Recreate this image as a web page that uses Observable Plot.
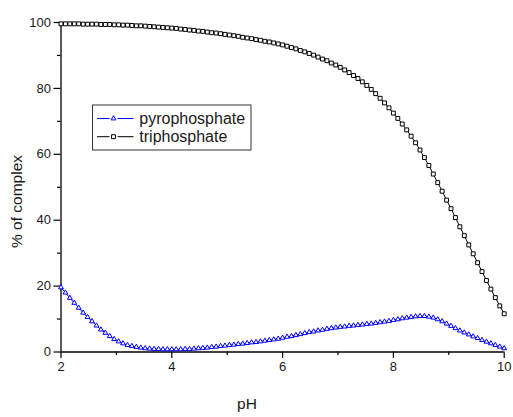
<!DOCTYPE html>
<html><head><meta charset="utf-8">
<script src="https://cdn.jsdelivr.net/npm/d3@7"></script>
<script src="https://cdn.jsdelivr.net/npm/@observablehq/plot@0.6"></script>
<style>body{margin:0;background:#fff} #chart svg{display:block}</style>
</head><body><div id="chart"></div>
<script>
const seriesNames = ["pyrophosphate", "triphosphate"];
const seriesColors = ["#0000ff", "#000000"];
const phStart = 2, phStep = 0.08;
const pyrophosphate = [
  19.6, 18.0, 16.4, 14.9, 13.4, 11.9, 10.6, 9.3, 8.0, 6.8,
  5.8, 4.8, 3.9, 3.2, 2.6, 2.1, 1.8, 1.5, 1.3, 1.1,
  1.0, 0.9, 0.9, 0.8, 0.8, 0.8, 0.8, 0.8, 0.9, 0.9,
  1.0, 1.1, 1.2, 1.3, 1.5, 1.6, 1.8, 1.9, 2.1, 2.2,
  2.4, 2.5, 2.7, 2.9, 3.0, 3.2, 3.4, 3.6, 3.8, 4.0,
  4.3, 4.6, 4.8, 5.1, 5.4, 5.7, 6.0, 6.2, 6.5, 6.7,
  7.0, 7.2, 7.4, 7.6, 7.7, 7.9, 8.0, 8.2, 8.3, 8.5,
  8.6, 8.8, 9.0, 9.2, 9.4, 9.7, 9.9, 10.2, 10.4, 10.6,
  10.8, 10.9, 10.9, 10.7, 10.4, 9.9, 9.3, 8.6, 7.9, 7.2,
  6.5, 5.9, 5.3, 4.7, 4.2, 3.6, 3.1, 2.6, 2.1, 1.6,
  1.1
];
const triphosphate = [
  99.6, 99.6, 99.6, 99.6, 99.6, 99.5, 99.5, 99.5, 99.5, 99.4,
  99.4, 99.4, 99.3, 99.3, 99.2, 99.2, 99.1, 99.0, 99.0, 98.9,
  98.8, 98.7, 98.6, 98.5, 98.4, 98.3, 98.2, 98.0, 97.9, 97.7,
  97.6, 97.4, 97.3, 97.1, 96.9, 96.8, 96.6, 96.4, 96.2, 96.0,
  95.8, 95.5, 95.3, 95.1, 94.8, 94.6, 94.3, 94.1, 93.8, 93.5,
  93.2, 92.8, 92.4, 92.0, 91.5, 91.1, 90.6, 90.1, 89.5, 88.9,
  88.4, 87.7, 87.1, 86.4, 85.6, 84.8, 83.9, 83.0, 82.0, 80.9,
  79.7, 78.4, 77.0, 75.6, 74.1, 72.5, 70.9, 69.2, 67.4, 65.5,
  63.5, 61.3, 59.0, 56.6, 54.0, 51.4, 48.8, 46.1, 43.5, 40.8,
  38.0, 35.3, 32.5, 29.8, 27.1, 24.4, 21.7, 19.1, 16.5, 14.0,
  11.6
];
const xTicks = [2, 4, 6, 8, 10];
const xMinorTicks = [3, 5, 7, 9];
const yTicks = [0, 20, 40, 60, 80, 100];
const yMinorTicks = [10, 30, 50, 70, 90];
const xLabel = "pH";
const yLabel = "% of complex";

const toRows = (vals, name) => vals.map((v, i) => ({pH: +(phStart + i * phStep).toFixed(2), value: v, series: name}));
const pyroRows = toRows(pyrophosphate, seriesNames[0]);
const triRows = toRows(triphosphate, seriesNames[1]);
const allRows = pyroRows.concat(triRows);

const font = "'Liberation Sans', Arial, Helvetica, sans-serif";
const plot = Plot.plot({
  width: 513, height: 417,
  marginLeft: 60.5, marginRight: 9.3, marginTop: 22, marginBottom: 65.5,
  style: {fontFamily: font, fontSize: "13px", color: "#1a1a1a", background: "#fff", overflow: "visible"},
  x: {domain: [2, 10]},
  y: {domain: [0, 100]},
  color: {domain: seriesNames, range: seriesColors},
  marks: [
    Plot.axisX({ticks: xTicks, tickSize: 6.5, tickPadding: 3, label: null, tickFormat: d => String(d), stroke: "#000", strokeWidth: 1.2, fontSize: 13}),
    Plot.axisX({ticks: xMinorTicks, tickSize: 3.5, label: null, tickFormat: () => "", stroke: "#000", strokeWidth: 1.2}),
    Plot.axisY({ticks: yTicks, tickSize: 7, tickPadding: 3, label: null, tickFormat: d => String(d), stroke: "#000", strokeWidth: 1.2, fontSize: 13}),
    Plot.axisY({ticks: yMinorTicks, tickSize: 3.5, label: null, tickFormat: () => "", stroke: "#000", strokeWidth: 1.2}),
    Plot.ruleY([0], {stroke: "#000", strokeWidth: 1.3}),
    Plot.ruleX([2], {stroke: "#000", strokeWidth: 1.3}),
    Plot.line(allRows, {x: "pH", y: "value", z: "series", stroke: "series", strokeWidth: 1}),
    Plot.dot(pyroRows, {x: "pH", y: "value", symbol: "triangle", r: 1.8, stroke: seriesColors[0], fill: "#fff", strokeWidth: 1}),
    Plot.dot(triRows, {x: "pH", y: "value", symbol: "square", r: 2.2, stroke: seriesColors[1], fill: "#fff", strokeWidth: 1})
  ]
});
document.getElementById("chart").appendChild(plot);

const svg = d3.select(plot);
// Axis titles
svg.append("text").attr("x", 247).attr("y", 409).attr("text-anchor", "middle")
  .attr("font-family", font).attr("font-size", 15.5).attr("fill", "#1a1a1a").text(xLabel);
svg.append("text").attr("transform", "translate(17,201.5) rotate(-90)").attr("text-anchor", "middle").attr("dy", "0.35em")
  .attr("font-family", font).attr("font-size", 15.5).attr("fill", "#1a1a1a").text(yLabel);

// Legend box
const lg = svg.append("g").attr("font-family", font).attr("font-size", 16).attr("text-anchor", "start");
lg.append("rect").attr("x", 92.5).attr("y", 105).attr("width", 158.5).attr("height", 45)
  .attr("fill", "#fff").attr("stroke", "#333").attr("stroke-width", 1);
const rowsY = [118.5, 136.7];
const sym = [d3.symbolTriangle, d3.symbolSquare];
const symSize = [Math.PI * 1.8 * 1.8, Math.PI * 2.2 * 2.2];
seriesNames.forEach((name, i) => {
  const y = rowsY[i];
  const g = lg.append("g");
  g.append("line").attr("x1", 97).attr("x2", 109.5).attr("y1", y).attr("y2", y).attr("stroke", seriesColors[i]).attr("stroke-width", 1);
  g.append("line").attr("x1", 117.5).attr("x2", 133.5).attr("y1", y).attr("y2", y).attr("stroke", seriesColors[i]).attr("stroke-width", 1);
  g.append("path").attr("d", d3.symbol(sym[i], symSize[i])()).attr("transform", `translate(113.5,${y})`)
    .attr("fill", "#fff").attr("stroke", seriesColors[i]).attr("stroke-width", 1);
  g.append("text").attr("x", 139.3).attr("y", y).attr("dy", "0.35em").attr("text-anchor", "start").attr("fill", "#1a1a1a").text(name);
});
</script>
</body></html>
